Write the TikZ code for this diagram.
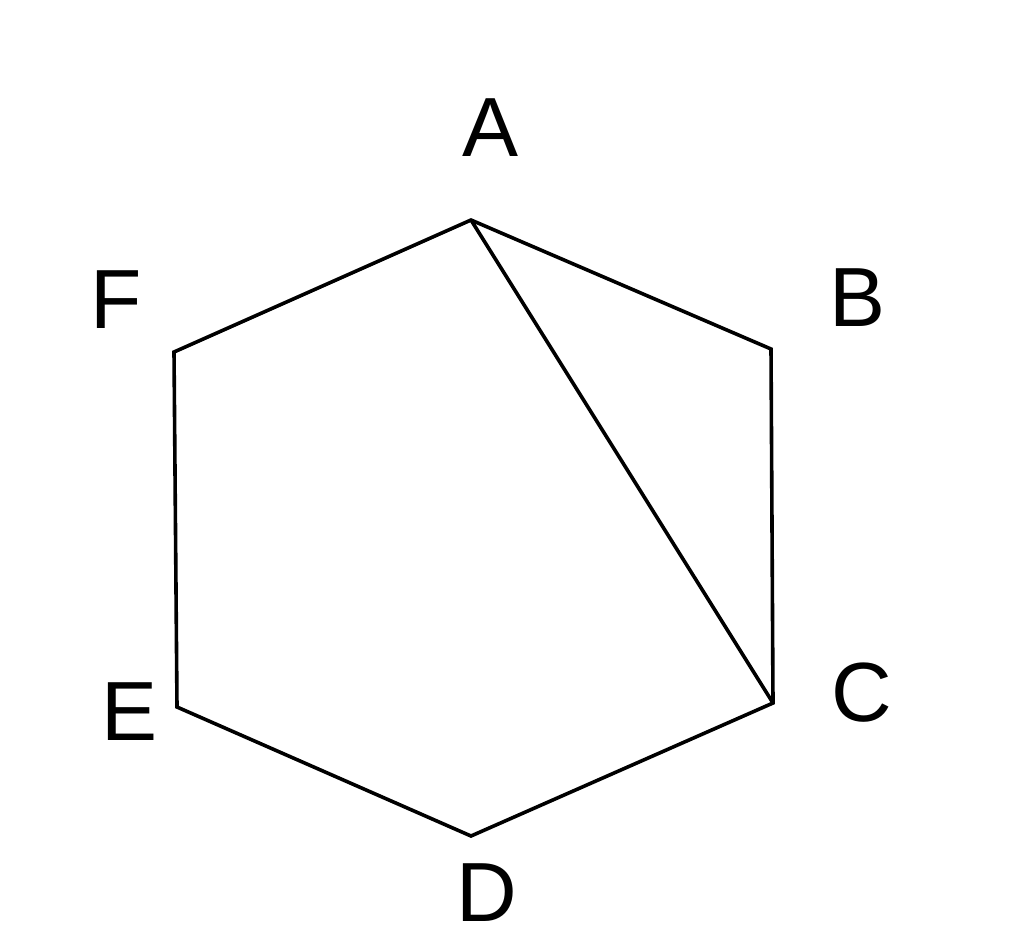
\documentclass[tikz,border=0pt]{standalone}
\usepackage{fontspec}
\setmainfont{Liberation Sans}
\begin{document}
\begin{tikzpicture}[x=1pt,y=-1pt,
  edge/.style={line width=3.6pt,line join=miter,black},
  lbl/.style={font=\fontsize{84}{84}\selectfont,inner sep=0pt,anchor=center}]
\useasboundingbox (0,0) rectangle (1024,951);
\coordinate (A) at (471,220);
\coordinate (B) at (771,349);
\coordinate (C) at (773,703);
\coordinate (D) at (471,836);
\coordinate (E) at (177,707);
\coordinate (F) at (174,352);
\draw[edge] (A) -- (B) -- (C) -- (D) -- (E) -- (F) -- cycle;
\draw[edge] (A) -- (C);
\node[lbl] (lA) at (491,128) {A};
\node[lbl] (lB) at (857,298) {B};
\node[lbl] (lC) at (862,693) {C};
\node[lbl] (lD) at (487,893) {D};
\node[lbl] (lE) at (130,712) {E};
\node[lbl] (lF) at (116,300) {F};
\end{tikzpicture}
\end{document}
